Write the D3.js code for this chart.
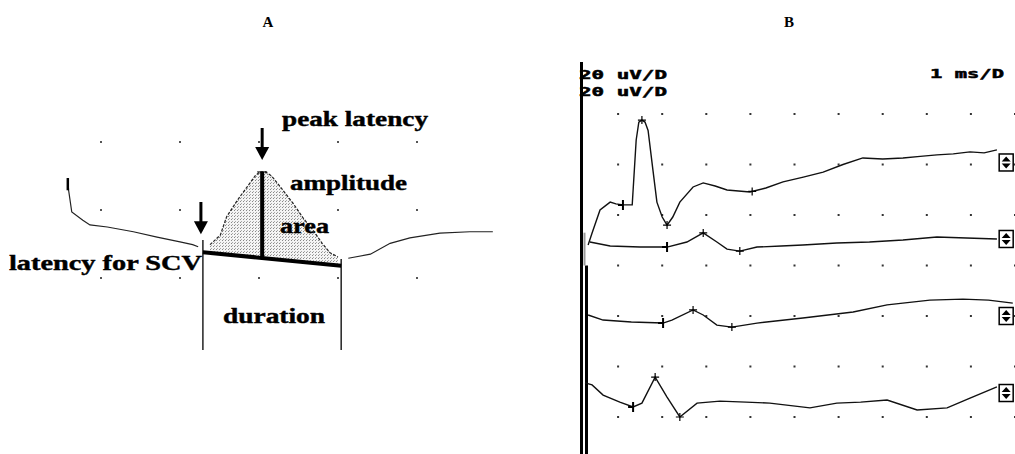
<!DOCTYPE html>
<html>
<head>
<meta charset="utf-8">
<script src="https://cdn.jsdelivr.net/npm/d3@7/dist/d3.min.js"></script>
<style>
  body { margin: 0; background: #fff; }
  #chart { width: 1015px; height: 454px; }
</style>
</head>
<body>
<div id="chart"></div>
<script>
// ---- panel A : schematic nerve potential (units = grid divisions)
var aPre  = [[0.58,1.47],[0.59,1.29],[0.63,0.97],[0.77,0.85],[0.86,0.78],[1.08,0.75],[1.41,0.68],[1.71,0.60],[2.00,0.53],[2.16,0.49],[2.23,0.46]];
var aPeak = [[2.38,0.49],[2.51,0.63],[2.59,0.90],[2.73,1.15],[2.85,1.34],[2.95,1.50],[3.01,1.56],[3.08,1.56],[3.16,1.50],[3.27,1.34],[3.43,1.10],[3.56,0.88],[3.68,0.71],[3.80,0.51],[3.90,0.37],[4.00,0.31]];
var aPost = [[4.13,0.29],[4.41,0.35],[4.66,0.51],[4.91,0.59],[5.29,0.66],[5.67,0.68],[5.96,0.68]];
var aBase = [[2.29,0.38],[4.04,0.18]];
var aOnset = 2.29, aEnd = 4.04, aPeakT = 3.04, aMarkBottom = -1.06;
var aGridX = [1,2,3,4,5];
var aGridY = [0,1,2];

// ---- panel B : recorded traces (ms, uV), 1 ms/D, 20 uV/D
var bOffsets = [-40, -60, -80, -120];
var trace1 = [[0.32,-11.9],[0.41,-7.1],[0.59,2.0],[0.82,5.1],[0.95,4.4],[1.11,4.0],[1.32,4.0],[1.41,29.7],[1.47,36.8],[1.54,37.6],[1.61,36.8],[1.68,33.5],[1.79,17.8],[1.88,5.1],[2.00,-0.8],[2.11,-4.0],[2.24,-0.8],[2.40,5.1],[2.70,11.1],[2.93,12.7],[3.20,11.5],[3.47,9.9],[3.99,9.1],[4.35,10.7],[4.74,13.1],[5.20,15.0],[5.65,17.0],[6.10,20.0],[6.55,22.6],[7.00,22.2],[7.46,22.6],[7.85,23.2],[8.23,23.8],[8.60,24.2],[8.98,25.0],[9.30,24.6],[9.59,25.8]];
var trace2 = [[0.36,9.3],[0.82,7.7],[1.50,7.3],[2.11,7.3],[2.56,9.3],[2.93,12.9],[3.24,9.3],[3.47,6.5],[3.76,5.7],[4.15,7.3],[4.70,7.7],[5.19,8.1],[5.96,8.9],[6.70,9.3],[7.46,10.1],[8.23,11.3],[8.90,10.9],[9.59,10.5]];
var trace3 = [[0.32,0.4],[0.66,-1.6],[1.30,-2.4],[2.02,-2.8],[2.22,-1.6],[2.70,2.4],[2.93,0.4],[3.24,-3.6],[3.58,-4.4],[4.15,-2.8],[5.19,-0.8],[6.33,1.6],[7.10,4.4],[8.07,6.3],[8.82,6.7],[9.40,6.3],[9.95,5.1]];
var trace4 = [[0.25,13.5],[0.41,12.7],[0.66,8.7],[1.04,5.9],[1.34,4.0],[1.54,5.5],[1.84,15.8],[2.11,7.9],[2.40,0.0],[2.79,5.5],[3.31,6.3],[3.90,5.9],[4.44,5.5],[5.35,3.6],[5.96,5.5],[6.50,5.9],[7.10,6.7],[7.78,2.8],[8.46,3.6],[8.98,7.5],[9.59,11.9]];
var bTraces = [trace1, trace2, trace3, trace4];
var bOnsets = [1.11, 2.11, 2.02, 1.34];
var bCursors = [[1.54, 2.11, 4.04], [2.93, 3.76], [2.70, 3.58], [1.84, 2.40]];
var bIconLevels = [20.8, 10.5, 0, 9.5];
var bGridX = [1,2,3,4,5,6,7,8,9,10];
var bGridY = [0,-20,-40,-60,-80,-100,-120];
var bSens = ["20 uV/D", "20 uV/D"];
var bSweep = "1 ms/D";

var width = 1015, height = 454;

var svg = d3.select("#chart")
            .append("svg")
            .attr("width", width)
            .attr("height", height);

var defs = svg.append("defs");
var pat = defs.append("pattern")
              .attr("id", "stipple")
              .attr("patternUnits", "userSpaceOnUse")
              .attr("width", 3)
              .attr("height", 3);
pat.append("rect").attr("width", 3).attr("height", 3).attr("fill", "#f4f4f4");
pat.append("rect").attr("x", 0).attr("y", 0).attr("width", 1).attr("height", 1).attr("fill", "#888");
pat.append("rect").attr("x", 1).attr("y", 2).attr("width", 1).attr("height", 1).attr("fill", "#aaa");

var serif = "'Liberation Serif', 'Times New Roman', serif";
var mono = "'DejaVu Sans Mono', monospace";

// panel titles
svg.append("text").attr("x", 268).attr("y", 27).attr("text-anchor", "middle")
   .style("font-family", serif).style("font-weight", "bold").style("font-size", 15).text("A");
svg.append("text").attr("x", 789).attr("y", 27).attr("text-anchor", "middle")
   .style("font-family", serif).style("font-weight", "bold").style("font-size", 15).text("B");

// ================= panel A
var xA = d3.scaleLinear().domain([0, 5]).range([22, 417]);
var yA = d3.scaleLinear().domain([0, 2]).range([278, 142]);
var gA = svg.append("g");

gA.selectAll(".dotA")
  .data(d3.cross(aGridX, aGridY))
  .enter().append("rect")
  .attr("class", "dotA")
  .attr("x", function(d) { return xA(d[0]) - 1; })
  .attr("y", function(d) { return yA(d[1]) - 1; })
  .attr("width", 2).attr("height", 2)
  .attr("fill", "#555");

var lineA = d3.line()
              .x(function(d) { return xA(d[0]); })
              .y(function(d) { return yA(d[1]); });

// shaded area between potential and baseline
var baseAt = d3.scaleLinear().domain([aBase[0][0], aBase[1][0]]).range([aBase[0][1], aBase[1][1]]);
var areaPts = aPeak.slice();
areaPts.push([aPeak[aPeak.length - 1][0], baseAt(aPeak[aPeak.length - 1][0])]);
areaPts.push([aPeak[0][0], baseAt(aPeak[0][0])]);
gA.append("path")
  .attr("d", lineA(areaPts) + "Z")
  .attr("fill", "url(#stipple)");

[aPre, aPeak, aPost].forEach(function(seg) {
  gA.append("path")
    .attr("d", lineA(seg))
    .attr("fill", "none")
    .attr("stroke", "#222")
    .attr("stroke-width", 1.2)
    .attr("stroke-dasharray", seg === aPeak ? "3,1.5" : null);
});

// start tick of trace
gA.append("line")
  .attr("x1", xA(aPre[0][0])).attr("x2", xA(aPre[0][0]))
  .attr("y1", yA(aPre[0][1])).attr("y2", yA(aPre[1][1]))
  .attr("stroke", "#000").attr("stroke-width", 2.5);

// baseline
gA.append("path")
  .attr("d", lineA(aBase))
  .attr("stroke", "#000").attr("stroke-width", 4);

// amplitude
var peakV = d3.max(aPeak, function(d) { return d[1]; });
gA.append("line")
  .attr("x1", xA(aPeakT)).attr("x2", xA(aPeakT))
  .attr("y1", yA(peakV)).attr("y2", yA(baseAt(aPeakT)))
  .attr("stroke", "#000").attr("stroke-width", 4);
gA.append("line")
  .attr("x1", xA(aPeakT) - 5).attr("x2", xA(aPeakT) + 5)
  .attr("y1", yA(peakV)).attr("y2", yA(peakV))
  .attr("stroke", "#000").attr("stroke-width", 1);

// duration markers
[[aOnset, aBase[0][1] + 0.18], [aEnd, aBase[1][1] + 0.1]].forEach(function(m) {
  gA.append("line")
    .attr("x1", xA(m[0])).attr("x2", xA(m[0]))
    .attr("y1", yA(m[1])).attr("y2", yA(aMarkBottom))
    .attr("stroke", "#000").attr("stroke-width", 1.3);
});

// arrows
function arrow(x, yTop, yTip) {
  gA.append("line")
    .attr("x1", x).attr("x2", x).attr("y1", yTop).attr("y2", yTip - 10)
    .attr("stroke", "#000").attr("stroke-width", 3);
  gA.append("path")
    .attr("d", "M" + (x - 7) + "," + (yTip - 13) + "L" + (x + 7) + "," + (yTip - 13) + "L" + x + "," + yTip + "Z")
    .attr("fill", "#000");
}
arrow(xA(aPeakT), 128, yA(peakV) - 12);
arrow(xA(aOnset) - 2, 202, yA(aBase[0][1]) - 18);

var labelsA = [
  {text: "peak latency", x: 282, y: 126, len: 146},
  {text: "amplitude", x: 290, y: 190, len: 117},
  {text: "area", x: 280, y: 233, len: 49},
  {text: "latency for SCV", x: 9, y: 270, len: 193},
  {text: "duration", x: 223, y: 323, len: 102}
];
gA.selectAll(".labA")
  .data(labelsA)
  .enter().append("text")
  .attr("class", "labA")
  .attr("x", function(d) { return d.x; })
  .attr("y", function(d) { return d.y; })
  .attr("textLength", function(d) { return d.len; })
  .attr("lengthAdjust", "spacingAndGlyphs")
  .style("font-family", serif)
  .style("font-weight", "bold")
  .style("font-size", 20)
  .style("stroke", "#000")
  .style("stroke-width", 0.4)
  .text(function(d) { return d.text; });

// ================= panel B
var xB = d3.scaleLinear().domain([0, 10]).range([574, 1015]);
var yB = d3.scaleLinear().domain([0, -120]).range([114, 417]);
var gB = svg.append("g");

gB.selectAll(".dotB")
  .data(d3.cross(bGridX, bGridY))
  .enter().append("rect")
  .attr("class", "dotB")
  .attr("x", function(d) { return xB(d[0]) - 1; })
  .attr("y", function(d) { return yB(d[1]) - 1; })
  .attr("width", 2).attr("height", 2)
  .attr("fill", "#333");

// sweep start line
gB.append("line").attr("x1", 581.5).attr("x2", 581.5).attr("y1", 62).attr("y2", height)
  .attr("stroke", "#000").attr("stroke-width", 3);
gB.append("line").attr("x1", 586.5).attr("x2", 586.5).attr("y1", yB(-60)).attr("y2", height)
  .attr("stroke", "#000").attr("stroke-width", 3);
gB.append("line").attr("x1", 584.5).attr("x2", 584.5).attr("y1", yB(-47)).attr("y2", yB(-60))
  .attr("stroke", "#999").attr("stroke-width", 2);

function valueAt(tr, t) {
  var i = d3.bisector(function(d) { return d[0]; }).left(tr, t);
  if (i <= 0) return tr[0][1];
  if (i >= tr.length) return tr[tr.length - 1][1];
  var a = tr[i - 1], b = tr[i];
  return a[1] + (b[1] - a[1]) * (t - a[0]) / (b[0] - a[0]);
}

bTraces.forEach(function(tr, k) {
  var off = bOffsets[k];
  var line = d3.line()
               .x(function(d) { return xB(d[0]); })
               .y(function(d) { return yB(d[1] + off); });
  gB.append("path")
    .attr("d", line(tr))
    .attr("fill", "none")
    .attr("stroke", "#111")
    .attr("stroke-width", 1.4);

  // onset marker
  var ox = xB(bOnsets[k]), oy = yB(valueAt(tr, bOnsets[k]) + off);
  gB.append("path")
    .attr("d", "M" + ox + "," + (oy - 5) + "V" + (oy + 5) + "M" + (ox - 5) + "," + oy + "H" + ox)
    .attr("stroke", "#000").attr("stroke-width", 2).attr("fill", "none");

  // cursor markers
  bCursors[k].forEach(function(t) {
    var cx = xB(t), cy = yB(valueAt(tr, t) + off);
    gB.append("path")
      .attr("d", "M" + (cx - 4) + "," + cy + "H" + (cx + 4) + "M" + cx + "," + (cy - 4) + "V" + (cy + 4))
      .attr("stroke", "#000").attr("stroke-width", 1.2);
  });

  // channel icon
  var iy = yB(bIconLevels[k] + off);
  var ic = gB.append("g").attr("transform", "translate(" + xB(9.63) + "," + (iy - 9) + ")");
  ic.append("rect").attr("x", 0.5).attr("y", 0.5).attr("width", 14).attr("height", 17)
    .attr("fill", "#fff").attr("stroke", "#000").attr("stroke-width", 1.5);
  ic.append("path").attr("d", "M3,8 L7.5,3 L12,8 Z M3,10 L7.5,15 L12,10 Z").attr("fill", "#000");
});

var monoText = function(txt, x, y, len) {
  gB.append("text")
    .attr("x", x).attr("y", y)
    .attr("textLength", len)
    .attr("lengthAdjust", "spacingAndGlyphs")
    .style("font-family", mono)
    .style("font-weight", "bold")
    .style("font-size", 12)
    .style("stroke", "#000")
    .style("stroke-width", 0.5)
    .text(txt);
};
bSens.forEach(function(s, i) { monoText(s, 579, 79 + i * 17, 88); });
monoText(bSweep, 930, 78, 74);
</script>
</body>
</html>
